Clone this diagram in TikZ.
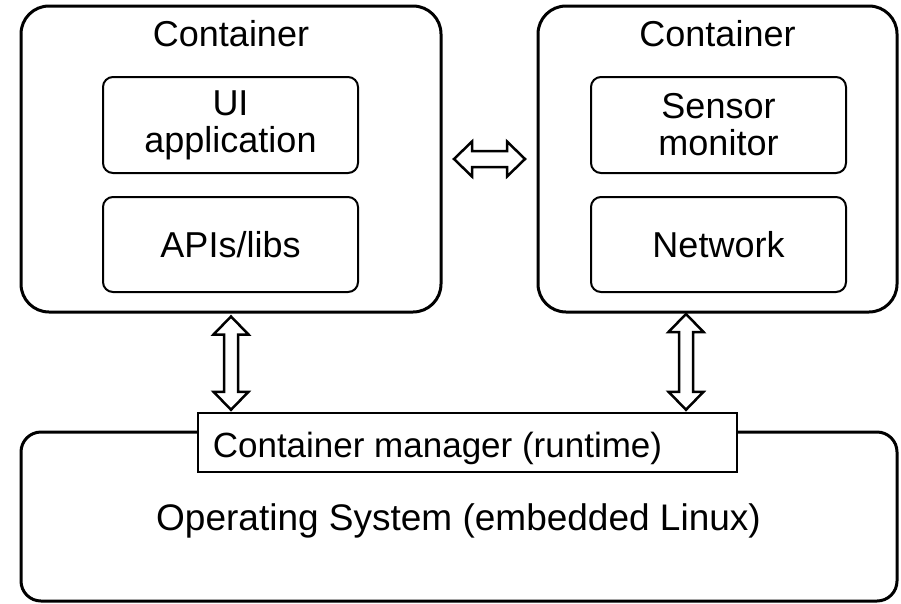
\documentclass[tikz,border=0pt]{standalone}
\usepackage{fontspec}
\setmainfont{Liberation Sans}
\usetikzlibrary{calc}
\begin{document}
\begin{tikzpicture}[x=1pt,y=-1pt,
  outerbox/.style={draw, line width=3pt, rounded corners=28pt, inner sep=0pt},
  innerbox/.style={draw, line width=2pt, rounded corners=10pt, inner sep=0pt,
    minimum width=255pt, align=center, font=\fontsize{36}{37}\selectfont},
  lbl/.style={font=\fontsize{36}{37}\selectfont, align=center, inner sep=0pt},
  blockarrow/.style={draw, line width=2.5pt, line join=miter, fill=white}]
\useasboundingbox (0,0) rectangle (901,603);

% two application containers
\node[outerbox, minimum width=420pt, minimum height=306pt] (cl) at (231,159) {};
\node[outerbox, minimum width=359pt, minimum height=306pt] (cr) at (717.5,159) {};
\node[lbl, anchor=base] (cltitle) at (231,46) {Container};
\node[lbl, anchor=base] (crtitle) at (717.5,46) {Container};

% contents of the left container
\node[innerbox, minimum height=96pt] (ui) at (230.5,125) {UI\\application};
\node[innerbox, minimum height=95pt] (api) at (230.5,244.5) {APIs/libs};

% contents of the right container
\node[innerbox, minimum height=96pt] (sensor) at (718.5,125) {Sensor\\monitor};
\node[innerbox, minimum height=95pt] (net) at (718.5,244.5) {Network};

% host operating system with the runtime on top
\node[draw, line width=3pt, rounded corners=20pt, inner sep=0pt,
  minimum width=876pt, minimum height=169pt] (os) at (459,516.5) {};
\node[lbl, anchor=base, font=\fontsize{37}{38}\selectfont] (ostext) at (458.5,530)
  {Operating System (embedded Linux)};
\node[draw, line width=2.5pt, fill=white, inner sep=0pt,
  minimum width=539pt, minimum height=59pt] (mgr) at (467.5,442.5) {};
\node[lbl, anchor=base, font=\fontsize{35}{36}\selectfont] (mgrtext) at (437.5,457)
  {Container manager (runtime)};

% block arrow end points
\coordinate (la-top) at ($(cl.south)+(0,3)$);
\coordinate (la-bot) at ($(mgr.north -| cl.south)+(0,-2)$);
\coordinate (ra-top) at (686,314);
\coordinate (ra-bot) at ($(mgr.north -| ra-top)+(0,-2)$);
\coordinate (ha-l) at (454,159);
\coordinate (ha-r) at (525,159);

% container <-> container
\draw[blockarrow] (ha-l) -- ++(18,-17.5) -- ++(0,9.5) -- ($(ha-r)+(-18,-8)$)
  -- ++(0,-9.5) -- (ha-r) -- ++(-18,17.5) -- ++(0,-9.5) -- ($(ha-l)+(18,8)$)
  -- ++(0,9.5) -- cycle;

% containers <-> runtime
\draw[blockarrow] (la-top) -- ++(17.5,18) -- ++(-10.5,0) -- ($(la-bot)+(7,-18)$)
  -- ++(10.5,0) -- (la-bot) -- ++(-17.5,-18) -- ++(10.5,0) -- ($(la-top)+(-7,18)$)
  -- ++(-10.5,0) -- cycle;
\draw[blockarrow] (ra-top) -- ++(17.5,18) -- ++(-10.5,0) -- ($(ra-bot)+(7,-18)$)
  -- ++(10.5,0) -- (ra-bot) -- ++(-17.5,-18) -- ++(10.5,0) -- ($(ra-top)+(-7,18)$)
  -- ++(-10.5,0) -- cycle;
\end{tikzpicture}
\end{document}
